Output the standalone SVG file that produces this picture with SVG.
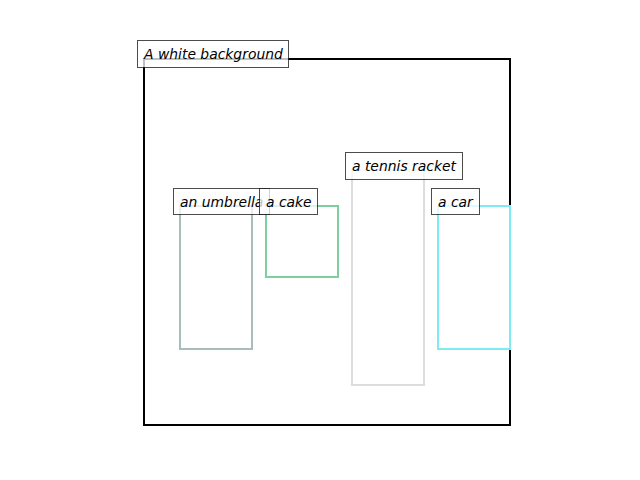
<svg xmlns="http://www.w3.org/2000/svg" width="640" height="480" viewBox="0 0 640 480">
<style>
.box{fill:none;stroke-width:2}
.lb{fill:#fff;fill-opacity:0.75;stroke:#000;stroke-opacity:0.7;stroke-width:1}
.t{font-family:"DejaVu Sans",sans-serif;font-style:oblique;font-size:13.9px;fill:#000}
</style>
<rect width="640" height="480" fill="#fff"/>
<g id="connectors"></g>
<g id="background"><rect class="box" x="144" y="59" width="366" height="366" stroke="#000"/></g>
<g id="umbrella"><rect class="box" x="180" y="206" width="72" height="143" stroke="#a6bdba"/></g>
<g id="cake"><rect class="box" x="266" y="206" width="72" height="71" stroke="#7dcfa0"/></g>
<g id="racket"><rect class="box" x="352" y="170" width="72" height="215" stroke="#dcdcd8"/></g>
<g id="car"><rect class="box" x="438" y="206" width="72" height="143" stroke="#80eaf2"/></g>
<g id="labels">
<g id="label-background"><rect class="lb" x="137.5" y="40.5" width="151" height="27"/><text class="t" x="144" y="59">A white background</text></g>
<g id="label-umbrella"><rect class="lb" x="173.5" y="188.5" width="96" height="26"/><text class="t" x="180" y="206.5">an umbrella</text></g>
<g id="label-cake"><rect class="lb" x="259.5" y="188.5" width="58" height="26"/><text class="t" x="266" y="206.5">a cake</text></g>
<g id="label-racket"><rect class="lb" x="345.5" y="152.5" width="117" height="27"/><text class="t" x="352" y="170.5">a tennis racket</text></g>
<g id="label-car"><rect class="lb" x="431.5" y="188.5" width="48" height="26"/><text class="t" x="438" y="206.5">a car</text></g>
</g>
</svg>
